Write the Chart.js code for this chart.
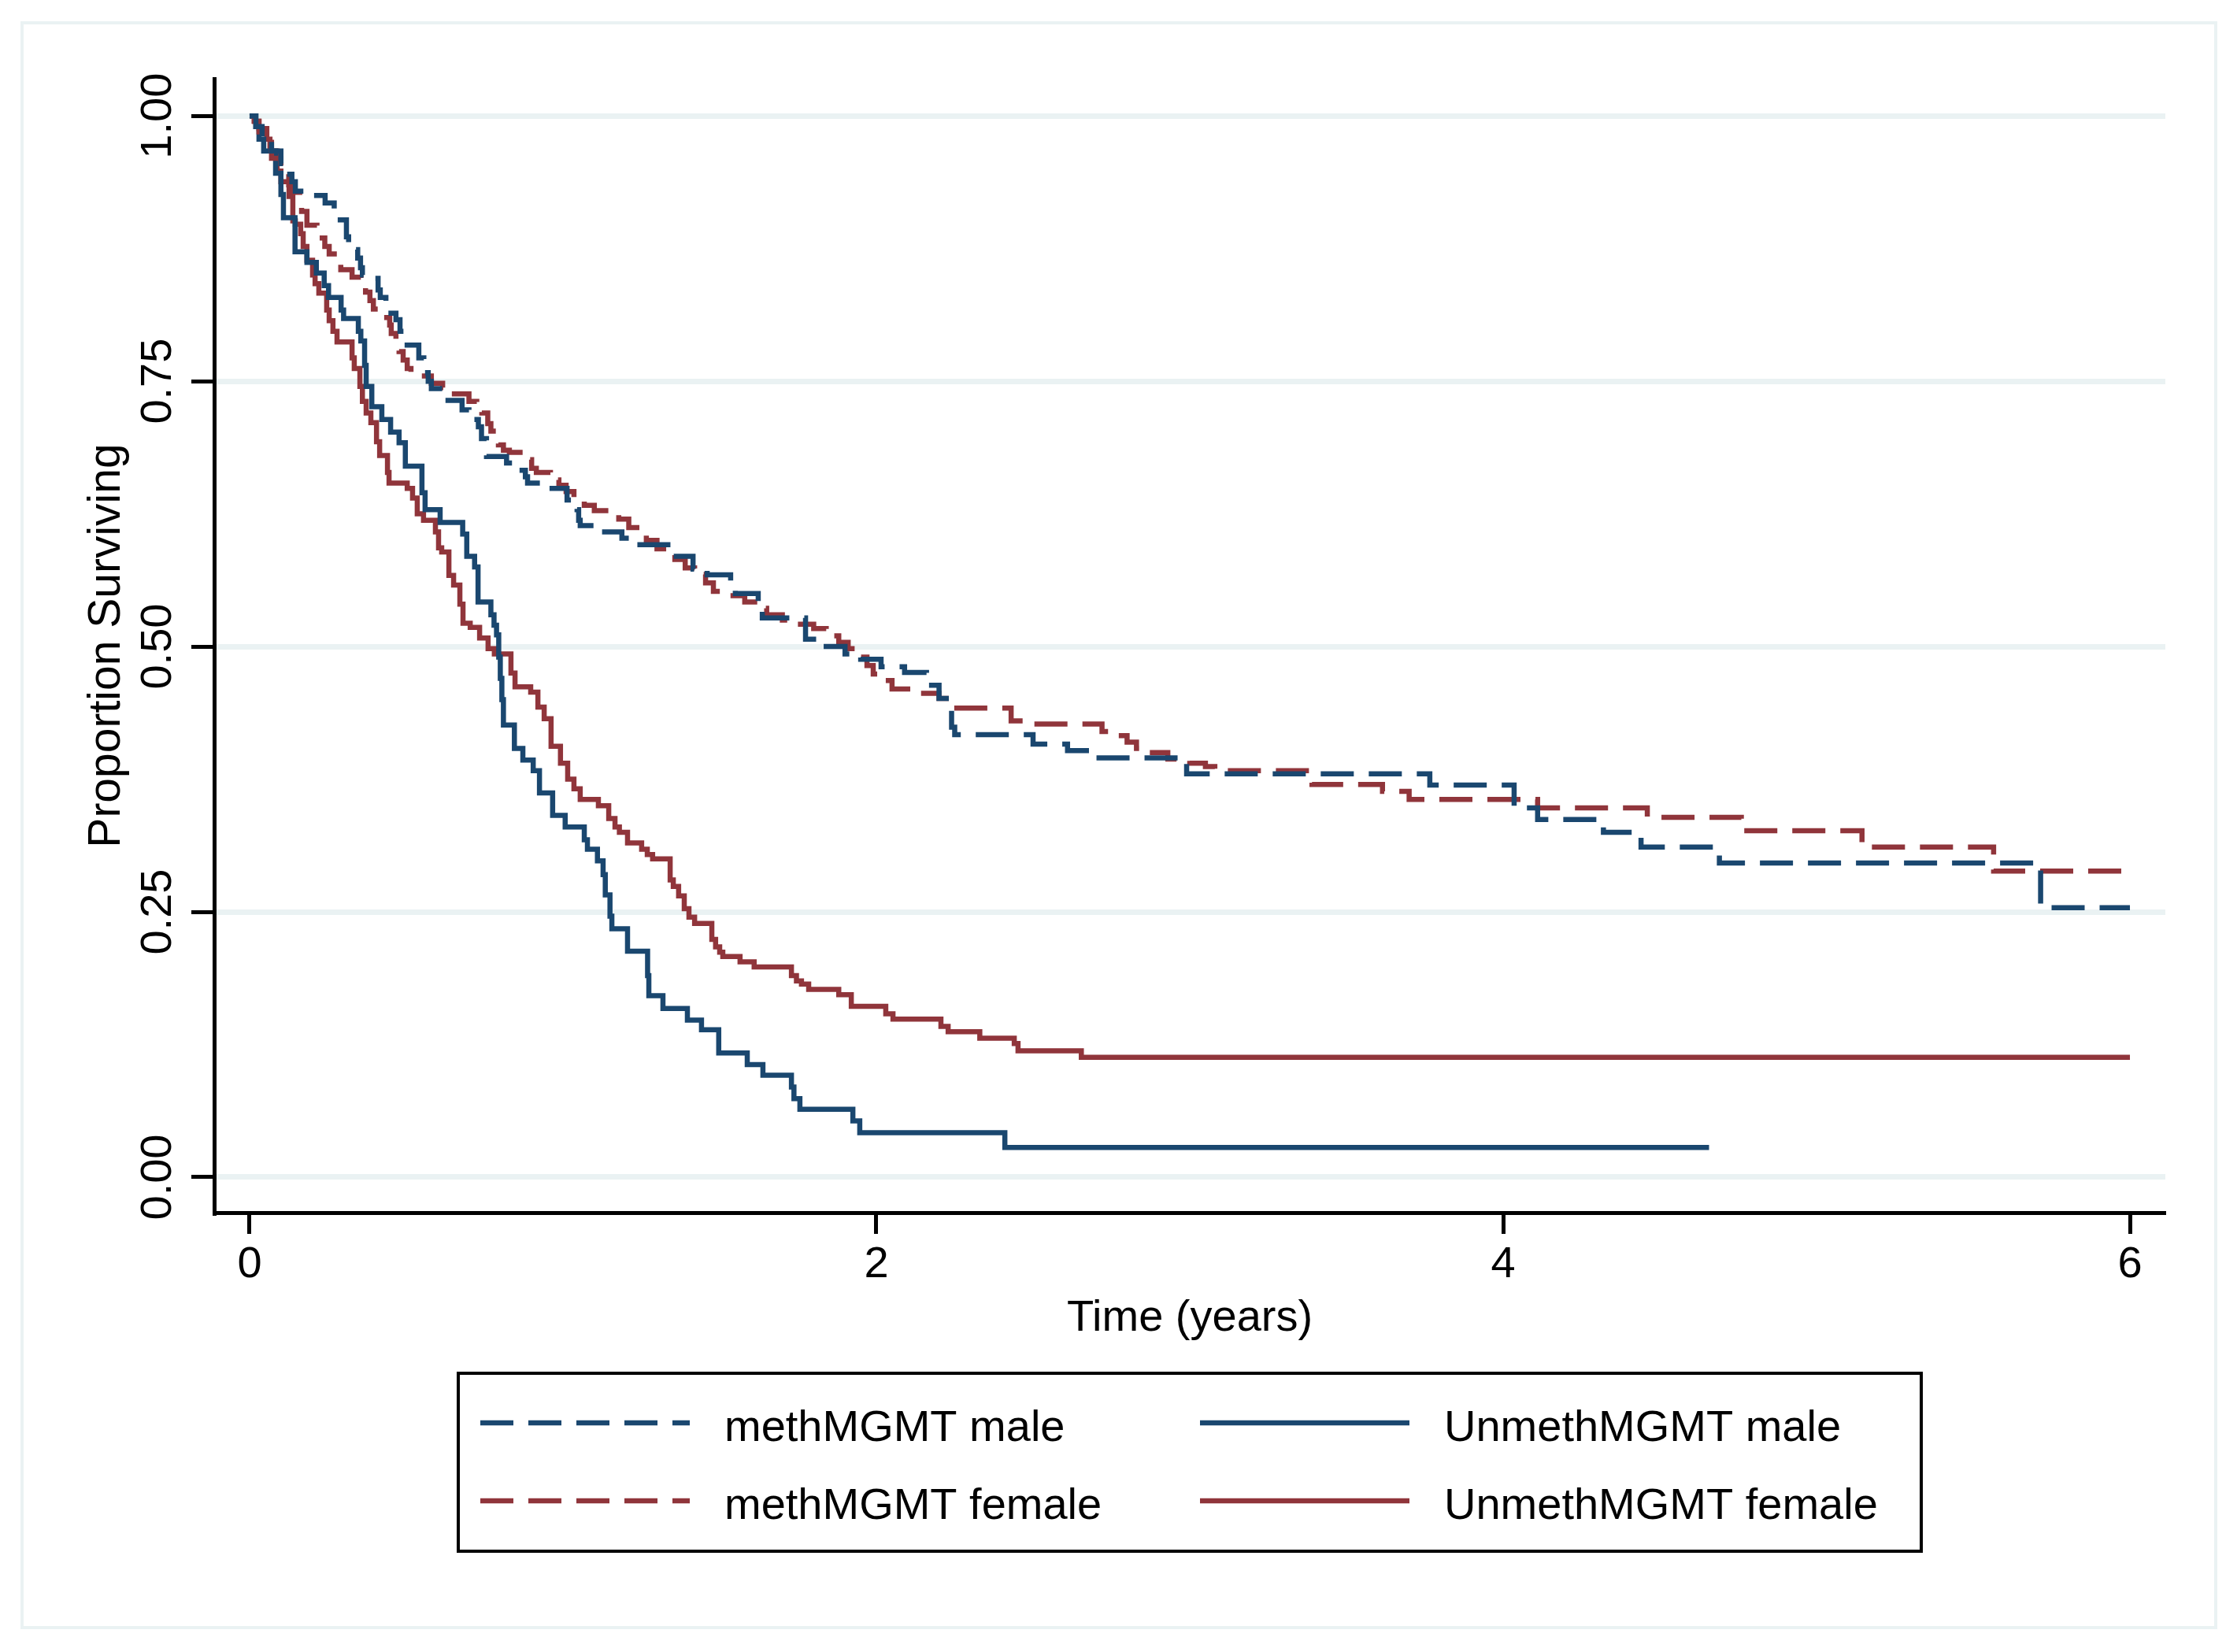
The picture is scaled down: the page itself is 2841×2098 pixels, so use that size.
<!DOCTYPE html>
<html>
<head>
<meta charset="utf-8">
<script src="https://cdn.jsdelivr.net/npm/chart.js@4.4.1/dist/chart.umd.min.js"></script>
<style>
  html, body { margin: 0; padding: 0; background: #fff; }
  canvas { display: block; }
</style>
</head>
<body>
<canvas id="km" width="2841" height="2098"></canvas>
<script>
// tick labels
const xTicks = [0, 2, 4, 6];
const yTicks = [0, 0.25, 0.5, 0.75, 1];
const seriesNames = ['methMGMT male', 'methMGMT female', 'UnmethMGMT male', 'UnmethMGMT female'];

// Kaplan-Meier steps: time (years) where each level starts
const methMaleTime = [0, 0.02, 0.04, 0.07, 0.1, 0.12, 0.135, 0.146, 0.2, 0.241, 0.27, 0.279, 0.309, 0.316, 0.335, 0.345, 0.354, 0.36, 0.4, 0.41, 0.417, 0.435, 0.44, 0.467, 0.48, 0.492, 0.54, 0.556, 0.57, 0.58, 0.618, 0.678, 0.7, 0.73, 0.74, 0.756, 0.82, 0.86, 0.88, 0.887, 0.94, 1.013, 1.045, 1.05, 1.055, 1.1, 1.188, 1.22, 1.35, 1.415, 1.46, 1.535, 1.55, 1.623, 1.636, 1.774, 1.84, 1.9, 1.95, 2.015, 2.09, 2.16, 2.2, 2.24, 2.25, 2.5, 2.61, 2.7, 2.99, 3.766, 4.035, 4.11, 4.32, 4.44, 4.69, 5.715, 6.0];
const methMaleSurv = [1, 0.99, 0.978, 0.967, 0.955, 0.945, 0.938, 0.929, 0.925, 0.918, 0.91, 0.902, 0.886, 0.88, 0.874, 0.866, 0.857, 0.85, 0.847, 0.836, 0.829, 0.825, 0.814, 0.808, 0.797, 0.784, 0.772, 0.758, 0.75, 0.743, 0.732, 0.723, 0.714, 0.707, 0.696, 0.679, 0.673, 0.666, 0.66, 0.654, 0.649, 0.638, 0.629, 0.619, 0.614, 0.608, 0.602, 0.596, 0.585, 0.573, 0.5675, 0.56, 0.55, 0.54, 0.527, 0.507, 0.5, 0.493, 0.488, 0.481, 0.4755, 0.4635, 0.451, 0.424, 0.417, 0.408, 0.402, 0.395, 0.38, 0.3695, 0.348, 0.337, 0.325, 0.311, 0.296, 0.254, 0.254];

const methFemaleTime = [0, 0.015, 0.03, 0.053, 0.07, 0.1, 0.125, 0.138, 0.16, 0.166, 0.183, 0.215, 0.24, 0.254, 0.28, 0.291, 0.327, 0.355, 0.37, 0.384, 0.395, 0.42, 0.447, 0.452, 0.467, 0.477, 0.49, 0.503, 0.515, 0.58, 0.616, 0.64, 0.7, 0.725, 0.741, 0.76, 0.77, 0.794, 0.81, 0.829, 0.88, 0.9, 0.915, 0.96, 0.987, 1.01, 1.035, 1.068, 1.1, 1.15, 1.178, 1.21, 1.245, 1.266, 1.3, 1.33, 1.357, 1.39, 1.42, 1.455, 1.48, 1.52, 1.58, 1.62, 1.65, 1.7, 1.74, 1.8, 1.84, 1.88, 1.91, 1.94, 1.97, 1.99, 2.01, 2.05, 2.1, 2.2, 2.24, 2.43, 2.47, 2.72, 2.76, 2.8, 2.83, 2.86, 2.93, 3.0, 3.05, 3.08, 3.39, 3.615, 3.7, 4.11, 4.46, 4.76, 5.145, 5.565, 6.0];
const methFemaleSurv = [1, 0.995, 0.985, 0.975, 0.96, 0.945, 0.935, 0.928, 0.92, 0.91, 0.897, 0.885, 0.877, 0.87, 0.862, 0.855, 0.848, 0.84, 0.834, 0.826, 0.818, 0.81, 0.803, 0.795, 0.788, 0.778, 0.77, 0.762, 0.755, 0.748, 0.744, 0.738, 0.731, 0.729, 0.72, 0.71, 0.703, 0.69, 0.685, 0.683, 0.676, 0.668, 0.664, 0.657, 0.652, 0.646, 0.64, 0.633, 0.628, 0.625, 0.62, 0.612, 0.606, 0.6, 0.592, 0.588, 0.582, 0.574, 0.568, 0.56, 0.552, 0.548, 0.542, 0.536, 0.53, 0.525, 0.521, 0.517, 0.51, 0.504, 0.498, 0.49, 0.482, 0.474, 0.468, 0.46, 0.456, 0.451, 0.442, 0.43, 0.427, 0.42, 0.416, 0.41, 0.404, 0.4, 0.394, 0.39, 0.387, 0.383, 0.37, 0.3635, 0.356, 0.348, 0.339, 0.3265, 0.311, 0.2885, 0.2885];

const unmethMaleTime = [0, 0.02, 0.03, 0.045, 0.083, 0.1, 0.108, 0.145, 0.183, 0.213, 0.238, 0.252, 0.292, 0.3, 0.347, 0.355, 0.367, 0.372, 0.39, 0.422, 0.45, 0.477, 0.497, 0.55, 0.56, 0.608, 0.68, 0.693, 0.718, 0.729, 0.77, 0.78, 0.788, 0.795, 0.8, 0.805, 0.81, 0.845, 0.872, 0.905, 0.925, 0.967, 1.007, 1.068, 1.078, 1.11, 1.128, 1.135, 1.15, 1.156, 1.206, 1.27, 1.274, 1.319, 1.397, 1.442, 1.497, 1.588, 1.638, 1.729, 1.737, 1.756, 1.925, 1.947, 2.41, 4.657];
const unmethMaleSurv = [1, 0.99, 0.978, 0.967, 0.946, 0.926, 0.904, 0.872, 0.862, 0.852, 0.84, 0.829, 0.817, 0.809, 0.797, 0.788, 0.765, 0.745, 0.726, 0.714, 0.702, 0.692, 0.67, 0.645, 0.629, 0.617, 0.606, 0.585, 0.575, 0.542, 0.53, 0.52, 0.511, 0.49, 0.47, 0.45, 0.426, 0.404, 0.393, 0.383, 0.362, 0.341, 0.33, 0.318, 0.309, 0.298, 0.285, 0.266, 0.246, 0.234, 0.213, 0.19, 0.171, 0.159, 0.148, 0.139, 0.117, 0.106, 0.096, 0.085, 0.074, 0.064, 0.053, 0.042, 0.028, 0.028];

const unmethFemaleTime = [0, 0.015, 0.03, 0.055, 0.065, 0.088, 0.1, 0.126, 0.138, 0.146, 0.163, 0.171, 0.183, 0.201, 0.209, 0.221, 0.246, 0.254, 0.266, 0.279, 0.327, 0.334, 0.352, 0.36, 0.372, 0.387, 0.405, 0.415, 0.44, 0.445, 0.503, 0.52, 0.535, 0.555, 0.593, 0.603, 0.613, 0.636, 0.651, 0.671, 0.681, 0.704, 0.734, 0.761, 0.781, 0.834, 0.847, 0.897, 0.92, 0.94, 0.962, 0.992, 1.015, 1.035, 1.055, 1.113, 1.146, 1.166, 1.18, 1.206, 1.251, 1.269, 1.286, 1.342, 1.352, 1.369, 1.387, 1.402, 1.42, 1.475, 1.487, 1.5, 1.51, 1.565, 1.61, 1.729, 1.745, 1.761, 1.784, 1.88, 1.92, 2.03, 2.053, 2.206, 2.229, 2.33, 2.44, 2.452, 2.654, 6.0];
const unmethFemaleSurv = [1, 0.995, 0.988, 0.978, 0.967, 0.948, 0.938, 0.924, 0.901, 0.898, 0.889, 0.877, 0.864, 0.85, 0.842, 0.833, 0.817, 0.807, 0.797, 0.787, 0.772, 0.762, 0.745, 0.731, 0.72, 0.711, 0.693, 0.68, 0.664, 0.654, 0.649, 0.64, 0.625, 0.619, 0.608, 0.593, 0.589, 0.567, 0.558, 0.54, 0.522, 0.518, 0.508, 0.498, 0.493, 0.475, 0.462, 0.457, 0.443, 0.432, 0.406, 0.39, 0.375, 0.366, 0.356, 0.35, 0.338, 0.33, 0.325, 0.315, 0.309, 0.304, 0.3, 0.28, 0.274, 0.265, 0.253, 0.245, 0.239, 0.224, 0.217, 0.212, 0.208, 0.203, 0.198, 0.19, 0.185, 0.182, 0.177, 0.172, 0.161, 0.154, 0.149, 0.142, 0.137, 0.131, 0.126, 0.119, 0.113, 0.113];

const navy = '#1a476f';
const maroon = '#90353b';
const gridCol = '#eaf2f3';
const fontFam = '"Liberation Sans", Arial, Helvetica, sans-serif';

function pts(t, s) {
  return t.map((v, i) => ({ x: v, y: s[i] }));
}

function kmLine(label, t, s, color, dashed) {
  return {
    label: label,
    data: pts(t, s),
    borderColor: color,
    borderWidth: 6.5,
    borderDash: dashed ? [42, 19] : [],
    borderCapStyle: 'butt',
    borderJoinStyle: 'miter',
    stepped: true,
    pointRadius: 0,
    fill: false
  };
}

// light frame round the whole graph
const framePlugin = {
  id: 'frame',
  beforeDraw(chart) {
    const ctx = chart.ctx;
    ctx.save();
    ctx.fillStyle = '#fff';
    ctx.fillRect(0, 0, chart.width, chart.height);
    ctx.strokeStyle = gridCol;
    ctx.lineWidth = 4;
    ctx.strokeRect(28, 29, 2786, 2038);
    ctx.restore();
  }
};

// two-column boxed legend under the plot
const legendPlugin = {
  id: 'boxLegend',
  afterDraw(chart) {
    const ctx = chart.ctx;
    const cols = [{ x0: 610, x1: 876, tx: 920 }, { x0: 1524, x1: 1790, tx: 1834 }];
    const rows = [{ y: 1807, base: 1830 }, { y: 1906, base: 1929 }];
    ctx.save();
    ctx.strokeStyle = '#000';
    ctx.lineWidth = 4;
    ctx.setLineDash([]);
    ctx.strokeRect(582, 1744, 1858, 226);
    chart.data.datasets.forEach((ds, i) => {
      const c = cols[Math.floor(i / 2)];
      const r = rows[i % 2];
      ctx.beginPath();
      ctx.setLineDash(ds.borderDash);
      ctx.strokeStyle = ds.borderColor;
      ctx.lineWidth = 6.5;
      ctx.lineCap = 'butt';
      ctx.moveTo(c.x0, r.y);
      ctx.lineTo(c.x1, r.y);
      ctx.stroke();
      ctx.setLineDash([]);
      ctx.fillStyle = '#000';
      ctx.font = '56px ' + fontFam;
      ctx.textAlign = 'left';
      ctx.textBaseline = 'alphabetic';
      ctx.fillText(ds.label, c.tx, r.base);
    });
    ctx.restore();
  }
};

Chart.defaults.font.family = fontFam;
Chart.defaults.font.size = 56;
Chart.defaults.color = '#000';

new Chart(document.getElementById('km').getContext('2d'), {
  type: 'line',
  data: {
    datasets: [
      kmLine(seriesNames[0], methMaleTime, methMaleSurv, navy, true),
      kmLine(seriesNames[1], methFemaleTime, methFemaleSurv, maroon, true),
      kmLine(seriesNames[2], unmethMaleTime, unmethMaleSurv, navy, false),
      kmLine(seriesNames[3], unmethFemaleTime, unmethFemaleSurv, maroon, false)
    ]
  },
  options: {
    responsive: false,
    devicePixelRatio: 1,
    animation: false,
    layout: { padding: { left: 0, top: 100, right: 91, bottom: 388 } },
    plugins: {
      legend: { display: false },
      tooltip: { enabled: false }
    },
    scales: {
      x: {
        type: 'linear',
        min: -0.113,
        max: 6.113,
        afterBuildTicks: s => { s.ticks = xTicks.map(v => ({ value: v })); },
        afterFit: s => { s.height = 170; },
        ticks: { padding: 6, maxRotation: 0, minRotation: 0, callback: v => String(v) },
        grid: { display: true, drawOnChartArea: false, drawTicks: true, tickLength: 27, tickWidth: 5, tickColor: '#000' },
        border: { display: true, color: '#000', width: 5 },
        title: { display: true, text: 'Time (years)', font: { size: 56 }, padding: { top: 0, bottom: 2 } }
      },
      y: {
        type: 'linear',
        min: -0.0334,
        max: 1.035,
        afterBuildTicks: s => { s.ticks = yTicks.map(v => ({ value: v })); },
        afterFit: s => { s.width = 272; },
        ticks: { padding: -13, minRotation: 90, maxRotation: 90, crossAlign: 'center', callback: v => v.toFixed(2) },
        grid: { color: gridCol, lineWidth: 7, drawTicks: true, tickLength: 29, tickWidth: 5, tickColor: '#000' },
        border: { display: true, color: '#000', width: 5 },
        title: { display: true, text: 'Proportion Surviving', font: { size: 57 }, padding: { top: 102, bottom: 0 } }
      }
    }
  },
  plugins: [framePlugin, legendPlugin]
});
</script>
</body>
</html>
